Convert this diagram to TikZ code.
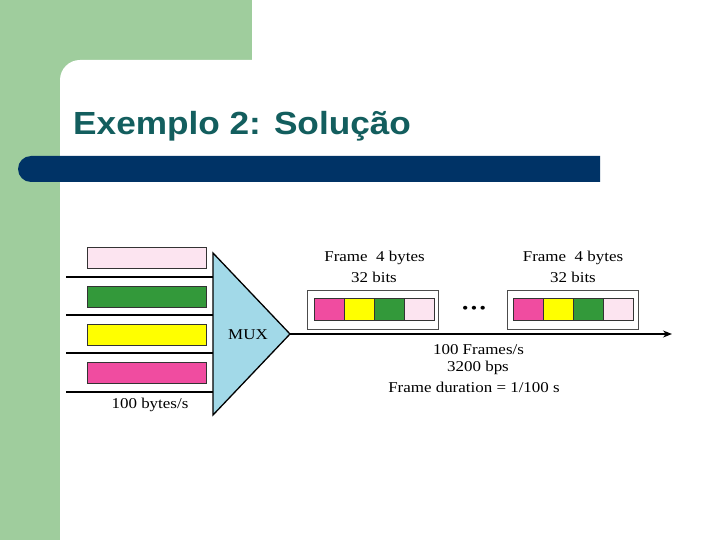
\documentclass[tikz,border=0pt]{standalone}
\usepackage{fontspec}
\usetikzlibrary{arrows.meta}
\newfontfamily\titlefont[FakeStretch=1.1]{Liberation Sans}
\newfontfamily\diagfont[FakeStretch=1.13]{Liberation Serif}
\definecolor{bggreen}{HTML}{9FCD9D}
\definecolor{barblue}{HTML}{003366}
\definecolor{titleteal}{HTML}{135E5E}
\definecolor{cpinkl}{HTML}{FCE4F0}
\definecolor{cgreen}{HTML}{33993A}
\definecolor{cyellow}{HTML}{FFFF00}
\definecolor{cpink}{HTML}{F04CA0}
\definecolor{muxblue}{HTML}{A2D9E8}
\tikzset{
  lbl/.style={font=\diagfont\fontsize{15}{18}\selectfont, inner sep=0pt, text=black},
  inline/.style={line width=1.3pt, black},
  cellbox/.style={draw=black!80, line width=0.9pt},
  framebox/.style={draw=black!70, line width=0.9pt},
}
\begin{document}
\begin{tikzpicture}[x=1pt,y=-1pt]
\useasboundingbox (0,0) rectangle (720,540);
% background
\fill[white] (0,0) rectangle (720,540);
\fill[bggreen] (0,0) rectangle (252,540);
\fill[white] (720,60) -- (80,60) arc[start angle=-90,end angle=-180,radius=20] -- (60,540) -- (720,540) -- cycle;
% blue bar
\fill[barblue] (600,156) -- (31,156) arc[start angle=-90,end angle=-270,radius=13] -- (600,182) -- cycle;
% title
\node[anchor=base west, inner sep=0pt, text=titleteal, font=\titlefont\bfseries\fontsize{32}{36}\selectfont] (title) at (73,135) {Exemplo 2: Solução};
% input lines
\foreach \y/\n in {277/l1,315/l2,353/l3,392/l4}{
  \coordinate (\n a) at (66,\y);
  \coordinate (\n b) at (213,\y);
  \draw[inline] (\n a) -- (\n b);
}
% input boxes
\fill[cpinkl,draw=black!80,line width=0.9pt] (87,247) rectangle (206,268);
\fill[cgreen,draw=black!80,line width=0.9pt] (87,286) rectangle (206,307);
\fill[cyellow,draw=black!80,line width=0.9pt] (87,324) rectangle (206,345);
\fill[cpink,draw=black!80,line width=0.9pt] (87,362) rectangle (206,383);
\node[lbl] (rate) at (150,405) {100 bytes/s};
% MUX
\coordinate (apex) at (290,334);
\filldraw[fill=muxblue, draw=black, line width=1.3pt] (213,253) -- (apex) -- (213,415) -- cycle;
\node[lbl] (mux) at (248,335) {MUX};
% output arrow
\coordinate (outend) at (672,334);
\draw[line width=1.3pt, -{Stealth[length=9pt,width=7pt]}] (apex) -- (outend);
% frames
\foreach \x/\n in {307/f1,507/f2}{
  \draw[framebox] (\x,290) rectangle ++(131,39);
}
\foreach \x in {314,513}{
  \filldraw[cellbox, fill=cpink] (\x,298) rectangle ++(30,22);
  \filldraw[cellbox, fill=cyellow] (\x+30,298) rectangle ++(30,22);
  \filldraw[cellbox, fill=cgreen] (\x+60,298) rectangle ++(30,22);
  \filldraw[cellbox, fill=cpinkl] (\x+90,298) rectangle ++(30,22);
}
\node[lbl] (fa1) at (374.5,258) {Frame\ \ 4 bytes};
\node[lbl] (fb1) at (374,277) {32 bits};
\node[lbl] (fa2) at (573,258) {Frame\ \ 4 bytes};
\node[lbl] (fb2) at (573,277) {32 bits};
\node[lbl, font=\diagfont\fontsize{16}{18}\selectfont] (dots) at (474,310) {•\kern2.5pt•\kern2.5pt•};
\node[lbl] (r1) at (478.5,350) {100 Frames/s};
\node[lbl] (r2) at (478,368) {3200 bps};
\node[lbl] (r3) at (474,387) {Frame duration = 1/100 s};
\end{tikzpicture}
\end{document}
